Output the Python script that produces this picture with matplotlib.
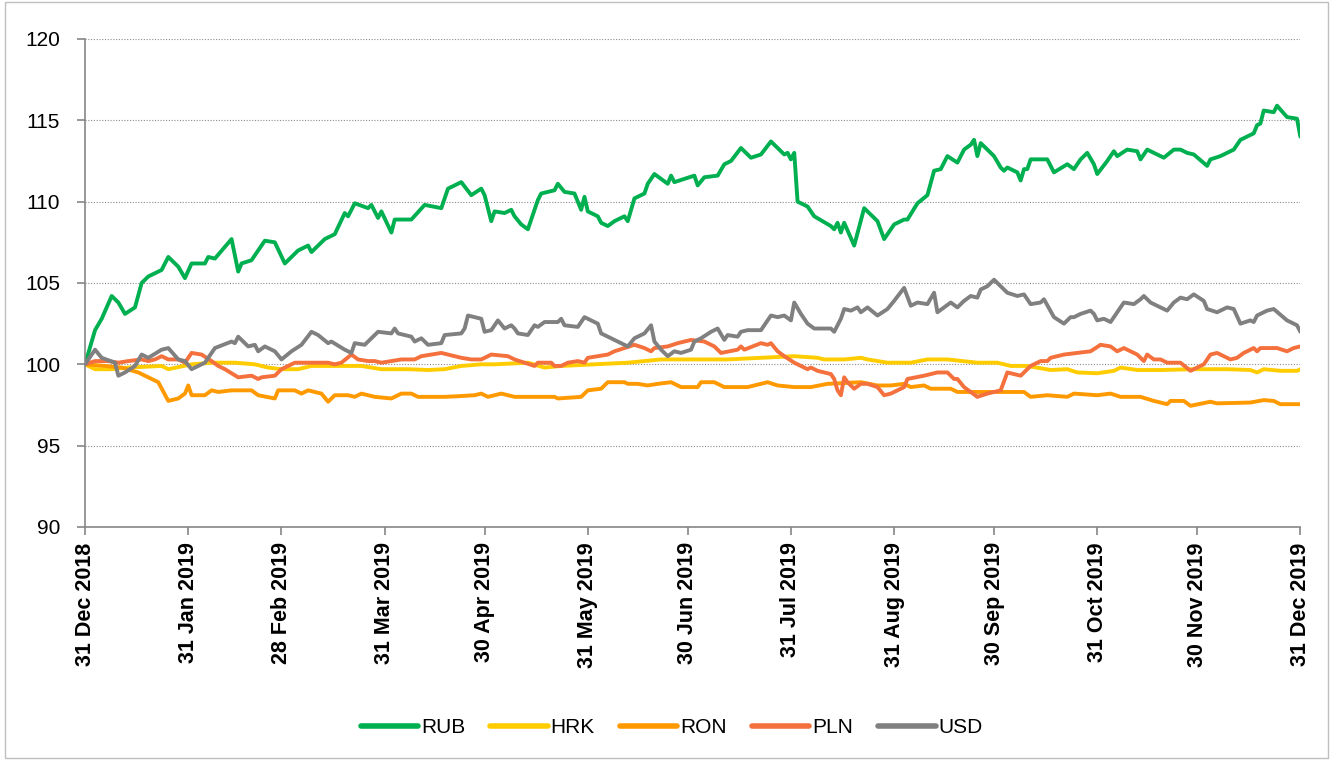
import datetime as dt
import matplotlib
matplotlib.use("Agg")
import matplotlib.pyplot as plt
from matplotlib import font_manager
from matplotlib.patches import Rectangle
import pandas as pd

# day offsets from 31 Dec 2018 and index values (31 Dec 2018 = 100)
rub_days = [0, 3, 5, 8, 10, 12, 15, 17, 19, 23, 25, 28, 30, 32, 36, 37, 39, 44, 46, 47, 50, 54, 57, 60, 64, 67, 68,
            72, 75, 78, 79, 81, 85, 86, 88, 89, 92, 93, 98, 102, 107, 109, 113, 116, 119, 120, 122, 123, 126, 128, 129,
            131, 133, 136, 137, 141, 142, 144, 147, 149, 150, 151, 154, 155, 157, 159, 162, 163, 165, 168, 169, 171,
            175, 176, 177, 183, 184, 186, 190, 192, 194, 197, 200, 203, 206, 208, 210, 211, 212, 213, 214, 217, 219,
            224, 225, 226, 227, 228, 231, 234, 238, 240, 243, 246, 247, 250, 253, 255, 257, 259, 262, 264, 266, 267,
            268, 269, 273, 275, 276, 277, 280, 281, 282, 283, 284, 289, 291, 295, 297, 299, 301, 303, 304, 307, 309,
            310, 313, 316, 317, 319, 324, 327, 329, 331, 333, 337, 338, 341, 345, 347, 351, 352, 353, 354, 357, 358,
            361, 364, 365]
rub_vals = [100.0, 102.1, 102.8, 104.2, 103.8, 103.1, 103.5, 105.0, 105.4, 105.8, 106.6, 106.0, 105.3, 106.2, 106.2,
            106.6, 106.5, 107.7, 105.7, 106.2, 106.4, 107.6, 107.5, 106.2, 107.0, 107.3, 106.9, 107.7, 108.0, 109.3,
            109.1, 109.9, 109.6, 109.8, 109.0, 109.4, 108.1, 108.9, 108.9, 109.8, 109.6, 110.8, 111.2, 110.4, 110.8,
            110.4, 108.8, 109.4, 109.3, 109.5, 109.1, 108.6, 108.3, 110.1, 110.5, 110.7, 111.1, 110.6, 110.5, 109.5,
            110.3, 109.4, 109.1, 108.7, 108.5, 108.8, 109.1, 108.8, 110.2, 110.5, 111.1, 111.7, 111.1, 111.6, 111.2,
            111.6, 111.0, 111.5, 111.6, 112.3, 112.5, 113.3, 112.7, 112.9, 113.7, 113.3, 112.9, 113.0, 112.6, 113.0,
            110.0, 109.7, 109.1, 108.5, 108.3, 108.7, 108.1, 108.7, 107.3, 109.6, 108.8, 107.7, 108.6, 108.9, 108.9,
            109.9, 110.4, 111.9, 112.0, 112.8, 112.4, 113.2, 113.5, 113.8, 112.8, 113.6, 112.8, 112.1, 111.9, 112.1,
            111.8, 111.3, 112.0, 112.0, 112.6, 112.6, 111.8, 112.3, 112.0, 112.6, 113.0, 112.3, 111.7, 112.5, 113.1,
            112.8, 113.2, 113.1, 112.6, 113.2, 112.7, 113.2, 113.2, 113.0, 112.9, 112.2, 112.6, 112.8, 113.2, 113.8,
            114.2, 114.7, 114.8, 115.6, 115.5, 115.9, 115.2, 115.1, 114.0]

hrk_days = [0, 3, 8, 13, 23, 25, 32, 38, 45, 51, 55, 59, 64, 68, 78, 83, 89, 97, 103, 108, 113, 119, 123, 133, 138,
            143, 153, 163, 173, 183, 193, 203, 213, 220, 222, 228, 233, 235, 241, 248, 253, 259, 268, 274, 278, 283,
            290, 295, 298, 304, 309, 311, 316, 323, 333, 343, 350, 352, 354, 359, 364, 365]
hrk_vals = [100.0, 99.7, 99.7, 99.8, 99.9, 99.7, 100.0, 100.1, 100.1, 100.0, 99.8, 99.7, 99.7, 99.9, 99.9, 99.9, 99.7,
            99.7, 99.65, 99.7, 99.9, 100.0, 100.0, 100.1, 99.8, 99.9, 100.0, 100.1, 100.3, 100.3, 100.3, 100.4, 100.5,
            100.4, 100.3, 100.3, 100.4, 100.3, 100.1, 100.1, 100.3, 100.3, 100.1, 100.1, 99.9, 99.9, 99.65, 99.7, 99.5,
            99.45, 99.6, 99.8, 99.65, 99.65, 99.7, 99.7, 99.65, 99.5, 99.7, 99.6, 99.6, 99.7]

ron_days = [0, 6, 11, 16, 19, 22, 25, 28, 30, 31, 32, 36, 38, 40, 44, 46, 50, 52, 57, 58, 63, 65, 67, 71, 73, 75, 79,
            81, 83, 87, 92, 95, 98, 100, 108, 113, 117, 119, 121, 125, 129, 135, 141, 142, 149, 151, 155, 157, 162, 163,
            166, 169, 172, 176, 179, 184, 185, 189, 192, 199, 205, 208, 213, 218, 223, 233, 238, 242, 246, 248, 252,
            254, 260, 262, 268, 274, 282, 284, 289, 295, 297, 304, 308, 311, 317, 321, 325, 326, 330, 332, 338, 340,
            350, 354, 357, 359, 365]
ron_vals = [100.0, 99.9, 99.8, 99.5, 99.2, 98.9, 97.75, 97.9, 98.2, 98.7, 98.1, 98.1, 98.4, 98.3, 98.4, 98.4, 98.4,
            98.1, 97.9, 98.4, 98.4, 98.2, 98.4, 98.2, 97.7, 98.1, 98.1, 98.0, 98.2, 98.0, 97.9, 98.2, 98.2, 98.0, 98.0,
            98.05, 98.1, 98.2, 98.0, 98.2, 98.0, 98.0, 98.0, 97.9, 98.0, 98.4, 98.5, 98.9, 98.9, 98.8, 98.8, 98.7,
            98.8, 98.9, 98.6, 98.6, 98.9, 98.9, 98.6, 98.6, 98.9, 98.7, 98.6, 98.6, 98.8, 98.9, 98.7, 98.7, 98.8, 98.6,
            98.7, 98.5, 98.5, 98.3, 98.3, 98.3, 98.3, 98.0, 98.1, 98.0, 98.2, 98.1, 98.2, 98.0, 98.0, 97.75, 97.55,
            97.75, 97.75, 97.45, 97.7, 97.6, 97.65, 97.8, 97.75, 97.55, 97.55]

pln_days = [0, 3, 7, 10, 13, 17, 19, 21, 23, 25, 28, 30, 32, 35, 38, 40, 42, 46, 50, 52, 53, 57, 59, 63, 73, 75, 77,
            80, 82, 85, 87, 89, 95, 99, 101, 107, 109, 113, 116, 119, 122, 127, 129, 135, 136, 140, 141, 143, 145, 148,
            150, 151, 154, 157, 159, 162, 165, 168, 170, 171, 175, 178, 182, 186, 189, 191, 196, 197, 198, 203, 205,
            206, 208, 210, 213, 217, 218, 220, 224, 225, 226, 227, 228, 229, 231, 233, 235, 238, 240, 242, 246, 247,
            252, 254, 256, 259, 261, 262, 264, 268, 271, 275, 277, 281, 284, 287, 289, 290, 294, 298, 302, 305, 308,
            310, 312, 316, 318, 319, 321, 323, 325, 329, 332, 336, 338, 340, 344, 346, 348, 351, 352, 353, 358, 361,
            363, 365]
pln_vals = [100.0, 100.2, 100.2, 100.1, 100.2, 100.3, 100.2, 100.3, 100.5, 100.3, 100.3, 100.1, 100.7, 100.6, 100.2,
            99.9, 99.7, 99.2, 99.3, 99.1, 99.2, 99.3, 99.7, 100.1, 100.1, 100.0, 100.1, 100.6, 100.3, 100.2, 100.2,
            100.1, 100.3, 100.3, 100.5, 100.7, 100.6, 100.4, 100.3, 100.3, 100.6, 100.5, 100.3, 99.9, 100.1, 100.1, 99.9,
            99.9, 100.1, 100.2, 100.1, 100.4, 100.5, 100.6, 100.8, 101.0, 101.2, 101.0, 100.8, 101.0, 101.1, 101.3,
            101.5, 101.4, 101.1, 100.7, 100.9, 101.1, 100.9, 101.3, 101.2, 101.3, 100.8, 100.5, 100.1, 99.7, 99.8, 99.6,
            99.4, 99.1, 98.4, 98.1, 99.2, 98.9, 98.5, 98.8, 98.8, 98.6, 98.1, 98.2, 98.6, 99.1, 99.3, 99.4, 99.5, 99.5,
            99.1, 99.1, 98.6, 98.0, 98.2, 98.4, 99.5, 99.3, 99.9, 100.2, 100.2, 100.4, 100.6, 100.7, 100.8, 101.2,
            101.1, 100.8, 101.0, 100.6, 100.2, 100.6, 100.3, 100.3, 100.1, 100.1, 99.6, 100.0, 100.6, 100.7, 100.3,
            100.4, 100.7, 101.0, 100.8, 101.0, 101.0, 100.8, 101.0, 101.1]

usd_days = [0, 3, 5, 9, 10, 12, 15, 17, 19, 23, 25, 28, 30, 32, 36, 39, 44, 45, 46, 49, 51, 52, 54, 57, 59, 62, 65, 68,
            70, 73, 74, 78, 80, 81, 84, 88, 92, 93, 94, 98, 99, 101, 103, 107, 108, 113, 114, 115, 119, 120, 122, 124,
            126, 128, 129, 130, 133, 135, 136, 138, 142, 143, 144, 148, 150, 154, 155, 157, 162, 163, 165, 168, 170,
            171, 173, 175, 177, 179, 182, 183, 185, 188, 190, 192, 193, 196, 197, 199, 203, 206, 208, 210, 212, 213,
            215, 217, 219, 224, 225, 227, 228, 230, 232, 233, 235, 238, 241, 243, 246, 248, 250, 253, 255, 256, 260,
            262, 264, 266, 268, 269, 271, 273, 277, 280, 282, 284, 287, 288, 291, 294, 296, 297, 299, 302, 303, 304,
            306, 308, 310, 312, 315, 317, 318, 320, 323, 325, 327, 329, 331, 333, 336, 337, 340, 343, 345, 347, 350,
            351, 352, 355, 357, 361, 364, 365]
usd_vals = [100.0, 100.9, 100.4, 100.1, 99.3, 99.5, 99.9, 100.6, 100.4, 100.9, 101.0, 100.3, 100.2, 99.7, 100.1, 101.0,
            101.4, 101.3, 101.7, 101.1, 101.2, 100.8, 101.1, 100.8, 100.3, 100.8, 101.2, 102.0, 101.8, 101.3, 101.4,
            100.9, 100.7, 101.3, 101.2, 102.0, 101.9, 102.2, 101.9, 101.7, 101.4, 101.6, 101.2, 101.3, 101.8, 101.9,
            102.2, 103.0, 102.8, 102.0, 102.1, 102.7, 102.2, 102.4, 102.2, 101.9, 101.8, 102.4, 102.3, 102.6, 102.6,
            102.8, 102.4, 102.3, 102.9, 102.5, 101.9, 101.7, 101.2, 101.1, 101.6, 101.9, 102.4, 101.4, 100.9, 100.5,
            100.8, 100.7, 100.9, 101.4, 101.6, 102.0, 102.2, 101.5, 101.8, 101.7, 102.0, 102.1, 102.1, 103.0, 102.9,
            103.0, 102.7, 103.8, 103.1, 102.5, 102.2, 102.2, 102.0, 102.8, 103.4, 103.3, 103.5, 103.2, 103.5, 103.0,
            103.4, 103.9, 104.7, 103.6, 103.8, 103.7, 104.4, 103.2, 103.8, 103.5, 103.9, 104.2, 104.1, 104.6, 104.8,
            105.2, 104.4, 104.2, 104.3, 103.7, 103.8, 104.0, 102.9, 102.5, 102.9, 102.9, 103.1, 103.3, 103.1, 102.7,
            102.8, 102.6, 103.2, 103.8, 103.7, 104.0, 104.2, 103.8, 103.5, 103.3, 103.8, 104.1, 104.0, 104.3, 103.9,
            103.4, 103.2, 103.5, 103.4, 102.5, 102.7, 102.6, 103.0, 103.3, 103.4, 102.7, 102.4, 102.0]

series = [
    ("RUB", rub_days, rub_vals, "#00B050"),
    ("HRK", hrk_days, hrk_vals, "#FFCC00"),
    ("RON", ron_days, ron_vals, "#FF9900"),
    ("PLN", pln_days, pln_vals, "#F4703C"),
    ("USD", usd_days, usd_vals, "#808080"),
]

start = dt.datetime(2018, 12, 31)
end = dt.datetime(2019, 12, 31)
tick_dates = pd.date_range(start, end, freq="ME")

installed = {f.name for f in font_manager.fontManager.ttflist}
narrow = "Liberation Sans Narrow" if "Liberation Sans Narrow" in installed else "Liberation Sans"

fig = plt.figure(figsize=(13.33, 7.6), dpi=100)
ax = fig.add_axes([0.0638, 0.3066, 0.9117, 0.6421])

for name, days, vals, color in series:
    x = [start + dt.timedelta(days=d) for d in days]
    ax.plot(x, vals, color=color, lw=2.8, label=name, solid_joinstyle="round", solid_capstyle="round")

ax.set_xlim(start, end)
ax.set_ylim(90, 120)
ax.set_yticks(range(90, 121, 5))
ax.set_xticks(tick_dates)
ax.set_xticklabels([d.strftime("%d %b %Y") for d in tick_dates], rotation=90,
                   fontsize=15.5, fontweight="bold", family="Liberation Sans")
for lab in ax.get_yticklabels():
    lab.set_family(narrow)
    lab.set_fontsize(15)

ax.grid(axis="y", color="#8C8C8C", ls=(0, (1, 1.5)), lw=0.8)
ax.set_axisbelow(True)
for s in ("top", "right"):
    ax.spines[s].set_visible(False)
for s in ("left", "bottom"):
    ax.spines[s].set_color("#868686")
    ax.spines[s].set_linewidth(1.2)
ax.tick_params(axis="both", direction="out", length=6, color="#868686", width=1.2)
ax.tick_params(axis="x", pad=5)
ax.tick_params(axis="y", pad=12)

leg = ax.legend(loc="center", bbox_to_anchor=(0.504, 0.043), bbox_transform=fig.transFigure,
                ncol=5, frameon=False, handlelength=2.75, columnspacing=1.2, handletextpad=0.15,
                prop={"family": narrow, "size": 15})
for line in leg.get_lines():
    line.set_linewidth(4.0)

fig.patches.append(Rectangle((0.004, 0.003), 0.992, 0.994, transform=fig.transFigure,
                             fill=False, edgecolor="#BFBFBF", lw=1.0))

fig.savefig("out.png", dpi=100)
